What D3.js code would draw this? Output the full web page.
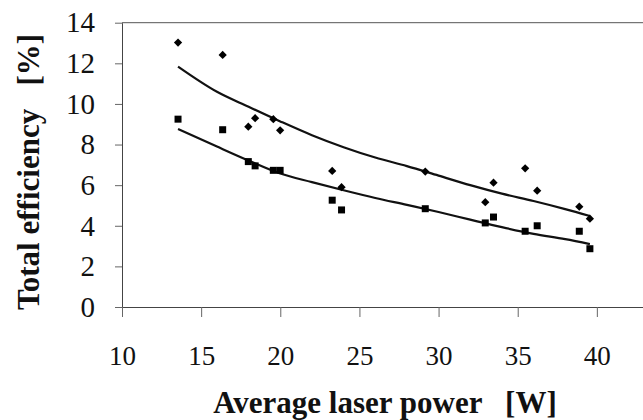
<!DOCTYPE html>
<html>
<head>
<meta charset="utf-8">
<script src="https://cdn.jsdelivr.net/npm/d3@7"></script>
<style>
  body { margin: 0; background: #fff; }
  svg { display: block; }
</style>
</head>
<body>
<svg id="chart"></svg>
<script>
// laser power (W), same for both series
const power = [13.54, 16.36, 17.98, 18.41, 19.56, 19.99, 23.28, 23.87, 29.16, 32.95, 33.47, 35.47, 36.23, 38.89, 39.56];
// diamonds
const upperEff = [13.02, 12.41, 8.88, 9.30, 9.25, 8.70, 6.70, 5.90, 6.67, 5.16, 6.12, 6.83, 5.73, 4.94, 4.35];
// squares
const lowerEff = [9.25, 8.73, 7.16, 6.95, 6.73, 6.73, 5.26, 4.78, 4.84, 4.14, 4.43, 3.73, 4.00, 3.73, 2.87];

// trend lines
const trendX = [13.54, 16, 18, 20, 22, 24, 26, 28, 30, 32, 34, 36, 38, 39.56];
const upperTrend = [11.84, 10.6, 9.86, 9.14, 8.46, 7.87, 7.36, 6.94, 6.47, 6.0, 5.58, 5.22, 4.82, 4.48];
const lowerTrend = [8.77, 7.9, 7.21, 6.57, 6.15, 5.75, 5.37, 5.03, 4.68, 4.30, 3.93, 3.60, 3.34, 3.10];

const xTicks = [10, 15, 20, 25, 30, 35, 40];
const yTicks = [0, 2, 4, 6, 8, 10, 12, 14];

const width = 643, height = 420;
const serif = '"Liberation Serif", "Times New Roman", Times, serif';

const svg = d3.select('#chart')
    .attr('width', width)
    .attr('height', height);

// scales
const x = d3.scaleLinear().domain([10, 45]).range([122, 676]);
const y = d3.scaleLinear().domain([0, 14]).range([307, 22.7]);

// top frame line
svg.append('line')
    .attr('x1', x(10)).attr('x2', x(45))
    .attr('y1', y(14)).attr('y2', y(14))
    .attr('stroke', '#555').attr('stroke-width', 1);

// y axis
const yAxis = svg.append('g')
    .attr('transform', `translate(${x(10)},0)`)
    .call(d3.axisLeft(y).tickValues(yTicks).tickSize(7).tickSizeOuter(0).tickPadding(20))
    .attr('font-family', serif);
yAxis.select('.domain').attr('stroke', '#444');
yAxis.selectAll('.tick line').attr('stroke', '#666');
yAxis.selectAll('.tick text')
    .style('font-family', serif)
    .attr('font-size', 29)
    .attr('fill', '#111');

// x axis
const xAxis = svg.append('g')
    .attr('transform', `translate(0,${y(0)})`)
    .call(d3.axisBottom(x).tickValues(xTicks).tickSize(10).tickSizeOuter(0))
    .attr('font-family', serif);
xAxis.select('.domain').attr('stroke', '#444');
xAxis.selectAll('.tick line').attr('stroke', '#666');
xAxis.selectAll('.tick text')
    .style('font-family', serif)
    .attr('font-size', 27)
    .attr('dy', null)
    .attr('y', 58)
    .attr('fill', '#111');

// axis titles
svg.append('text')
    .attr('x', 385)
    .attr('y', 413)
    .attr('text-anchor', 'middle')
    .style('font-family', serif)
    .attr('font-size', 31)
    .attr('font-weight', 'bold')
    .attr('fill', '#111')
    .style('white-space', 'pre')
    .text('Average laser power   [W]');

svg.append('text')
    .attr('transform', 'translate(39,172) rotate(-90)')
    .attr('text-anchor', 'middle')
    .style('font-family', serif)
    .attr('font-size', 31)
    .attr('font-weight', 'bold')
    .attr('fill', '#111')
    .style('white-space', 'pre')
    .text('Total efficiency   [%]');

// trend lines
const line = d3.line()
    .x((d, i) => x(trendX[i]))
    .y(d => y(d))
    .curve(d3.curveMonotoneX);

[upperTrend, lowerTrend].forEach(t => {
    svg.append('path')
        .datum(t)
        .attr('d', line)
        .attr('fill', 'none')
        .attr('stroke', '#111')
        .attr('stroke-width', 2.2);
});

// markers
const diamond = d3.symbol().type(d3.symbolSquare).size(34);
svg.append('g')
    .selectAll('path')
    .data(upperEff)
    .enter().append('path')
    .attr('d', diamond)
    .attr('transform', (d, i) => `translate(${x(power[i])},${y(d)}) rotate(45)`)
    .attr('fill', '#000');

const square = d3.symbol().type(d3.symbolSquare).size(49);
svg.append('g')
    .selectAll('path')
    .data(lowerEff)
    .enter().append('path')
    .attr('d', square)
    .attr('transform', (d, i) => `translate(${x(power[i])},${y(d)})`)
    .attr('fill', '#000');
</script>
</body>
</html>
